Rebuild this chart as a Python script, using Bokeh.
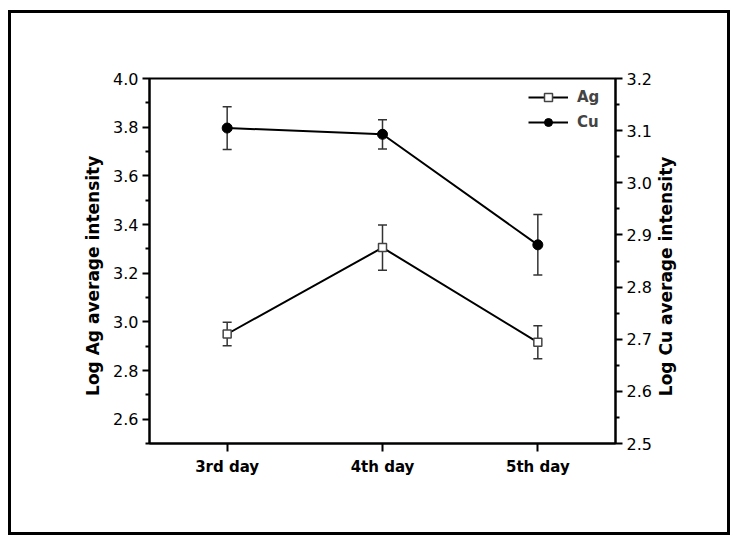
import math
from bokeh.plotting import figure
from bokeh.models import (Range1d, FactorRange, LinearAxis, FixedTicker, PrintfTickFormatter,
                          ColumnDataSource, Whisker, TeeHead, Legend, LegendItem)
from bokeh.embed import file_html
from bokeh.resources import INLINE

days = ["3rd day", "4th day", "5th day"]
ag = [2.95, 3.305, 2.916]
ag_err = [0.048, 0.093, 0.068]
cu = [3.105, 3.093, 2.881]
cu_err = [0.041, 0.028, 0.058]

ag_ticks = [2.6, 2.8, 3.0, 3.2, 3.4, 3.6, 3.8, 4.0]
ag_minor = [2.5, 2.7, 2.9, 3.1, 3.3, 3.5, 3.7, 3.9]
cu_ticks = [2.5, 2.6, 2.7, 2.8, 2.9, 3.0, 3.1, 3.2]
cu_minor = [2.55, 2.65, 2.75, 2.85, 2.95, 3.05, 3.15]

ag_title = "Log Ag average intensity"
cu_title = "Log Cu average intensity"

FONT = "DejaVu Sans"
NBSP = "\u00a0"

src = ColumnDataSource(dict(
    x=days, ag=ag, cu=cu,
    ag_lo=[v - e for v, e in zip(ag, ag_err)], ag_hi=[v + e for v, e in zip(ag, ag_err)],
    cu_lo=[v - e for v, e in zip(cu, cu_err)], cu_hi=[v + e for v, e in zip(cu, cu_err)],
))

p = figure(width=722, height=525, x_range=FactorRange(factors=days, range_padding=0),
           y_range=Range1d(2.5, 4.0), output_backend="svg", toolbar_location=None,
           min_border_left=138, min_border_right=118, min_border_top=65, min_border_bottom=95)
p.styles = {"margin-left": "8px", "margin-top": "10px", "border": "3px solid black"}
p.extra_y_ranges = {"cu": Range1d(2.5, 3.2)}
p.grid.visible = False
p.outline_line_color = "black"
p.outline_line_width = 2
p.background_fill_color = "white"
p.border_fill_color = "white"

# axes
xa = p.xaxis[0]
ya = p.yaxis[0]
ya.ticker = FixedTicker(ticks=ag_ticks, minor_ticks=ag_minor)
ya.formatter = PrintfTickFormatter(format="%.1f")
# trailing non-breaking spaces nudge the centred title slightly downward
ya.axis_label = ag_title + NBSP * 5
ra = LinearAxis(y_range_name="cu", axis_label=NBSP * 8 + cu_title,
                ticker=FixedTicker(ticks=cu_ticks, minor_ticks=cu_minor),
                formatter=PrintfTickFormatter(format="%.1f"))
p.add_layout(ra, "right")

for ax in (xa, ya, ra):
    ax.axis_line_color = "black"
    ax.axis_line_width = 2
    ax.major_tick_line_color = "black"
    ax.major_tick_line_width = 2
    ax.minor_tick_line_color = "black"
    ax.minor_tick_line_width = 2
    ax.major_tick_in = 0
    ax.major_tick_out = 7
    ax.minor_tick_in = 0
    ax.minor_tick_out = 4
    ax.major_label_text_font = FONT
    ax.major_label_text_font_size = "16px"
    ax.major_label_text_color = "black"
    ax.major_label_standoff = 4
    ax.axis_label_text_font = FONT
    ax.axis_label_text_font_size = "17px"
    ax.axis_label_text_font_style = "bold"
    ax.axis_label_text_color = "black"
    ax.axis_label_standoff = 7

# right title must read bottom-to-top like the left one
ra.axis_label_orientation = math.pi / 2
ra.axis_label_align = "start"
ra.axis_label_standoff = 11

xa.major_label_text_font_style = "bold"
xa.major_label_text_font_size = "15px"
xa.major_tick_out = 8
xa.major_label_standoff = 6

# error bars
for lo, hi, rng in (("ag_lo", "ag_hi", "default"), ("cu_lo", "cu_hi", "cu")):
    w = Whisker(source=src, base="x", lower=lo, upper=hi, dimension="height",
                y_range_name=rng, line_color="#333333", line_width=1.5,
                upper_head=TeeHead(size=9, line_color="#333333", line_width=1.5),
                lower_head=TeeHead(size=9, line_color="#333333", line_width=1.5))
    p.add_layout(w)

# Ag series
ag_line = p.line("x", "ag", source=src, line_color="black", line_width=2)
ag_pts = p.scatter("x", "ag", source=src, marker="square", size=8, fill_color="white",
                   line_color="#444444", line_width=1.5)
# Cu series
cu_line = p.line("x", "cu", source=src, y_range_name="cu", line_color="black", line_width=2)
cu_pts = p.scatter("x", "cu", source=src, y_range_name="cu", marker="circle", size=10,
                   fill_color="black", line_color="black")

legend = Legend(items=[LegendItem(label="Ag", renderers=[ag_line, ag_pts]),
                       LegendItem(label="Cu", renderers=[cu_line, cu_pts])],
                location=(379, 311), padding=0, spacing=5, glyph_width=40, glyph_height=20,
                label_standoff=9, label_text_font=FONT, label_text_font_size="15px",
                label_text_font_style="bold", border_line_color=None,
                background_fill_alpha=0)
p.add_layout(legend)

open("out.html", "w").write(file_html(p, INLINE))
